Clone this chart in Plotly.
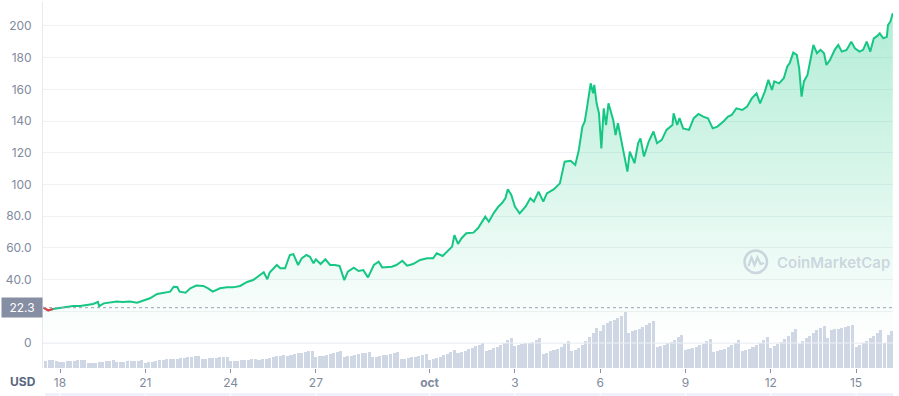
import pandas as pd
import plotly.graph_objects as go

# ---------------- data ----------------
START = pd.Timestamp("2021-09-17 00:00")

# price samples: hours since START and price in USD
price_hours = [10, 14, 18, 24, 30, 35, 41, 46, 52, 56, 57, 61, 66, 72, 77, 83, 89, 94, 100, 106,
               111, 117, 120, 123, 125, 130, 134, 139, 145, 149, 153, 159, 165, 170, 176, 182, 187, 191, 196, 199,
               201, 207, 210, 214, 218, 221, 225, 228, 232, 235, 238, 240, 244, 248, 252, 256, 260, 264, 267, 272,
               276, 280, 284, 289, 293, 296, 300, 304, 308, 313, 317, 322, 328, 334, 339, 342, 347, 351, 355, 357,
               360, 363, 367, 373, 377, 383, 386, 390, 394, 397, 400, 402, 405, 408, 412, 417, 421, 424, 428, 432,
               435, 441, 446, 450, 455, 459, 462, 465, 467, 469, 472, 474, 475, 477, 479, 481, 483, 485, 487, 491,
               493, 495, 499, 503, 505, 509, 512, 514, 517, 521, 525, 528, 532, 536, 541, 542, 545, 547, 550, 555,
               559, 563, 567, 571, 575, 579, 584, 588, 591, 595, 600, 604, 608, 612, 615, 619, 622, 625, 627, 631,
               635, 638, 640, 643, 646, 648, 650, 652, 655, 657, 660, 663, 666, 669, 671, 674, 678, 681, 684, 688,
               692, 695, 699, 702, 705, 708, 711, 714, 716, 719, 722, 723, 725, 727]
price_usd = [22.3, 20.6, 21.5, 22.3, 22.9, 23.3, 23.3, 24.0, 24.6, 25.9, 23.2, 25.0, 25.7, 26.1, 25.9, 26.1, 25.4, 26.7, 28.2, 30.9,
             31.7, 32.4, 35.5, 35.3, 32.4, 31.7, 34.5, 36.2, 36.0, 34.5, 32.4, 34.5, 35.1, 35.1, 36.0, 38.5, 39.7, 41.8, 44.6, 40.2,
             44.5, 49.2, 47.1, 47.1, 55.5, 56.0, 49.2, 53.4, 55.5, 54.4, 50.3, 52.8, 49.8, 52.8, 49.2, 49.2, 48.6, 39.7, 45.0, 47.5,
             45.4, 46.0, 41.4, 49.2, 51.3, 47.7, 47.7, 48.1, 49.2, 51.9, 48.8, 49.8, 52.4, 53.4, 53.4, 56.6, 54.9, 57.6, 60.8, 68.1,
             62.5, 66.1, 69.2, 69.6, 72.5, 79.7, 76.5, 81.8, 86.0, 88.1, 91.3, 97.0, 93.4, 86.0, 81.8, 86.0, 91.3, 89.2, 95.5, 89.2,
             94.4, 97.0, 100.7, 114.4, 115.0, 112.3, 121.8, 136.5, 139.7, 149.1, 163.8, 157.5, 162.8, 151.2, 144.9, 122.8, 148.0, 137.5, 151.2, 140.7,
             131.2, 138.6, 123.9, 108.1, 120.7, 113.4, 126.0, 129.1, 117.6, 127.1, 133.4, 126.0, 128.1, 134.4, 137.5, 144.9, 137.5, 141.8, 135.4, 134.4,
             141.8, 144.5, 142.8, 141.8, 135.4, 136.5, 139.7, 142.8, 143.8, 148.0, 147.0, 149.1, 154.3, 157.5, 151.2, 158.6, 166.0, 159.6, 165.0, 163.8,
             167.0, 174.5, 176.5, 183.2, 181.7, 173.2, 155.4, 165.0, 169.1, 176.5, 188.0, 182.8, 184.9, 182.8, 175.4, 178.5, 184.9, 188.0, 183.8, 184.9,
             190.1, 185.9, 183.8, 184.9, 190.1, 183.8, 192.2, 193.7, 195.3, 192.2, 193.2, 200.6, 202.7, 208.0]

# 3-hourly volume (x10M USD), one list per day starting Sep 17 (first day from 12:00)
volume_days = [
    [7.0, 7.7, 8.0, 7.3],
    [6.0, 6.3, 6.7, 7.0, 7.3, 7.7, 8.0, 8.3],
    [4.7, 5.0, 5.3, 5.7, 6.3, 6.7, 7.3, 7.7],
    [6.0, 6.0, 6.3, 6.7, 7.0, 7.0, 7.3, 7.7],
    [5.3, 5.7, 6.3, 7.0, 7.7, 8.3, 8.7, 9.0],
    [9.0, 9.3, 9.7, 10.3, 10.7, 11.3, 11.7, 12.0],
    [9.0, 9.3, 9.7, 10.0, 10.3, 10.7, 10.7, 11.0],
    [6.7, 7.0, 7.3, 7.7, 8.0, 8.3, 8.7, 9.0],
    [8.3, 8.7, 9.3, 10.0, 10.7, 11.7, 12.3, 13.0],
    [12.3, 13.0, 13.7, 14.7, 15.3, 16.0, 16.7, 17.0],
    [11.0, 11.7, 12.3, 13.3, 14.3, 15.3, 16.3, 17.3],
    [11.0, 11.7, 12.3, 13.0, 13.7, 14.7, 15.3, 16.0],
    [11.0, 11.3, 12.0, 12.7, 13.3, 14.3, 15.0, 15.7],
    [9.0, 9.3, 10.0, 10.7, 11.3, 12.3, 13.0, 14.0],
    [8.3, 9.0, 10.0, 11.3, 12.7, 14.3, 16.0, 17.7],
    [15.0, 16.0, 17.3, 18.7, 20.0, 21.7, 23.3, 25.0],
    [16.7, 18.0, 19.7, 21.3, 23.3, 25.3, 27.7, 30.0],
    [21.7, 23.0, 24.0, 24.7, 25.3, 26.0, 28.0, 30.0],
    [14.3, 15.3, 16.7, 18.0, 19.3, 21.3, 24.0, 26.7],
    [16.7, 18.3, 20.3, 23.3, 27.0, 31.0, 35.3, 40.0],
    [36.7, 43.3, 45.0, 46.7, 48.3, 50.0, 51.7, 55.7],
    [35.0, 36.7, 38.0, 39.3, 41.0, 43.0, 45.0, 46.7],
    [21.0, 22.0, 23.3, 24.7, 26.3, 28.3, 30.7, 33.3],
    [17.7, 18.7, 20.0, 21.3, 22.7, 24.3, 26.7, 29.0],
    [15.7, 16.7, 17.7, 19.3, 21.0, 23.0, 25.3, 27.7],
    [16.7, 18.0, 19.3, 21.0, 23.0, 25.3, 28.0, 31.0],
    [20.0, 21.7, 23.7, 26.3, 29.3, 32.3, 35.7, 39.0],
    [24.3, 27.0, 29.7, 32.3, 35.0, 37.7, 40.0, 42.3],
    [30.0, 37.7, 38.7, 39.3, 40.0, 41.0, 42.0, 43.3],
    [21.0, 22.7, 24.7, 27.0, 29.7, 32.3, 35.3, 38.3],
    [25.0, 33.0, 37.0],
]

tick_dates = ["2021-09-18", "2021-09-21", "2021-09-24", "2021-09-27", "2021-10-01",
              "2021-10-04", "2021-10-07", "2021-10-10", "2021-10-13", "2021-10-16"]
tick_labels = ["18", "21", "24", "27", "<b>oct</b>", "3", "6", "9", "12", "15"]

y_tickvals = [0, 20, 40, 60, 80, 100, 120, 140, 160, 180, 200]
y_ticktext = ["0", "", "40.0", "60.0", "80.0", "100", "120", "140", "160", "180", "200"]

open_price = 22.3

# ---------------- build ----------------
price_t = [START + pd.Timedelta(hours=h) for h in price_hours]

vol_t, vol_v = [], []
for i, day in enumerate(volume_days):
    first_hour = 12 if i == 0 else 0
    for j, v in enumerate(day):
        vol_t.append(START + pd.Timedelta(days=i, hours=first_hour + 3 * j))
        vol_v.append(v)

GREEN = "#16c784"
RED = "#ea3943"
GRID = "#eff2f5"
LABEL = "#808a9d"
FONT = "Inter"

W, H = 899, 396
ML, MR, MT, MB = 43, 6, 2, 28
PW, PH = W - ML - MR, H - MT - MB


def px(x, y):
    """pixel -> paper coordinates (for decorations only)"""
    return (x - ML) / PW, (H - MB - y) / PH


fig = go.Figure()

fig.add_trace(go.Bar(
    x=vol_t, y=vol_v, yaxis="y2",
    marker=dict(color="#cfd6e4", line=dict(width=0)),
    width=3 * 3600 * 1000 * 0.86, hoverinfo="skip", showlegend=False,
))

fig.add_trace(go.Scatter(
    x=price_t, y=price_usd, mode="lines",
    line=dict(color=GREEN, width=2, shape="linear"),
    fill="tozeroy",
    fillgradient=dict(type="vertical", start=0, stop=210,
                      colorscale=[[0, "rgba(22,199,132,0)"], [0.1, "rgba(22,199,132,0.03)"],
                                  [1, "rgba(22,199,132,0.33)"]]),
    hoverinfo="skip", showlegend=False,
))

# section below the opening price is drawn in red
fig.add_trace(go.Scatter(
    x=price_t[:3], y=price_usd[:3], mode="lines",
    line=dict(color=RED, width=2),
    hoverinfo="skip", showlegend=False,
))

x_start = START + pd.Timedelta(hours=9.65)
x_end = START + pd.Timedelta(hours=727.2)

fig.update_layout(
    width=W, height=H,
    margin=dict(l=ML, r=MR, t=MT, b=MB),
    paper_bgcolor="white", plot_bgcolor="white",
    font=dict(family=FONT, size=12, color=LABEL),
    bargap=0,
    hovermode=False,
    xaxis=dict(
        type="date", range=[x_start, x_end],
        tickvals=tick_dates, ticktext=tick_labels,
        ticks="outside", ticklen=4, tickcolor="#8a93a8", tickwidth=1,
        showgrid=False, showline=False, zeroline=False,
        tickfont=dict(family=FONT, size=12, color=LABEL),
        fixedrange=True,
    ),
    yaxis=dict(
        range=[-15.77, 215.1],
        tickvals=y_tickvals, ticktext=y_ticktext,
        showgrid=True, gridcolor=GRID, gridwidth=1,
        zeroline=False, showline=True, linecolor="#e6e9ef", linewidth=1,
        ticks="", ticklabelstandoff=8,
        tickfont=dict(family=FONT, size=12, color=LABEL),
        fixedrange=True,
    ),
    yaxis2=dict(range=[0, PH], overlaying="y", visible=False, fixedrange=True),
)

shapes = []
# dotted open-price line
shapes.append(dict(type="line", xref="paper", x0=0, x1=1, yref="y", y0=open_price, y1=open_price,
                   line=dict(color="#9aa3b5", width=1, dash="dot"), layer="above"))
# zero grid line over the volume bars
shapes.append(dict(type="line", xref="paper", x0=0, x1=1, yref="y", y0=0, y1=0,
                   line=dict(color="#eef1f6", width=1), layer="above"))
# navigator strip at the bottom
bx0, by0 = px(45, 393)
bx1, by1 = px(893, 397)
shapes.append(dict(type="rect", xref="paper", yref="paper", x0=bx0, x1=bx1, y0=by1, y1=by0,
                   fillcolor="#eef0fb", line=dict(width=0), layer="above"))
for d in tick_dates:
    shapes.append(dict(type="line", xref="x", x0=d, x1=d, yref="paper", y0=by1, y1=by0,
                       line=dict(color="white", width=1), layer="above"))
# watermark logo
cx0, cy0 = px(744.5, 250.5)
cx1, cy1 = px(767, 273)
WM = "rgba(160,168,192,0.45)"
shapes.append(dict(type="circle", xref="paper", yref="paper", x0=cx0, x1=cx1, y0=cy1, y1=cy0,
                   line=dict(color=WM, width=2.5)))
pts = [(748.5, 266), (751.5, 257.5), (754.5, 265), (757.5, 257.5), (760.5, 264), (764, 263)]
path = ""
for k, (a, b) in enumerate(pts):
    u, v = px(a, b)
    path += ("M" if k == 0 else "L") + f"{u:.5f},{v:.5f} "
shapes.append(dict(type="path", xref="paper", yref="paper", path=path.strip(),
                   line=dict(color=WM, width=2.2)))
fig.update_layout(shapes=shapes)

ax, ay = px(775, 262)
usd_x, usd_y = px(23, 381)
fig.update_layout(annotations=[
    dict(text="22.3", xref="paper", yref="y", x=0, y=open_price, xanchor="right", yanchor="middle",
         showarrow=False, bgcolor="#858ea3", font=dict(family=FONT, size=12, color="white"),
         width=36, height=15, borderpad=2, align="center"),
    dict(text="USD", xref="paper", yref="paper", x=usd_x, y=usd_y, xanchor="center", yanchor="middle",
         showarrow=False, font=dict(family=FONT, size=12, color="#58667e", weight="bold")),
    dict(text="CoinMarketCap", xref="paper", yref="paper", x=ax, y=ay, xanchor="left", yanchor="middle",
         showarrow=False, font=dict(family=FONT, size=15, color=WM, weight=600)),
])

fig.write_html(
    "out.html",
    config={"displayModeBar": False, "staticPlot": True},
    post_script="document.body.style.margin='0';document.body.style.overflow='hidden';",
)
